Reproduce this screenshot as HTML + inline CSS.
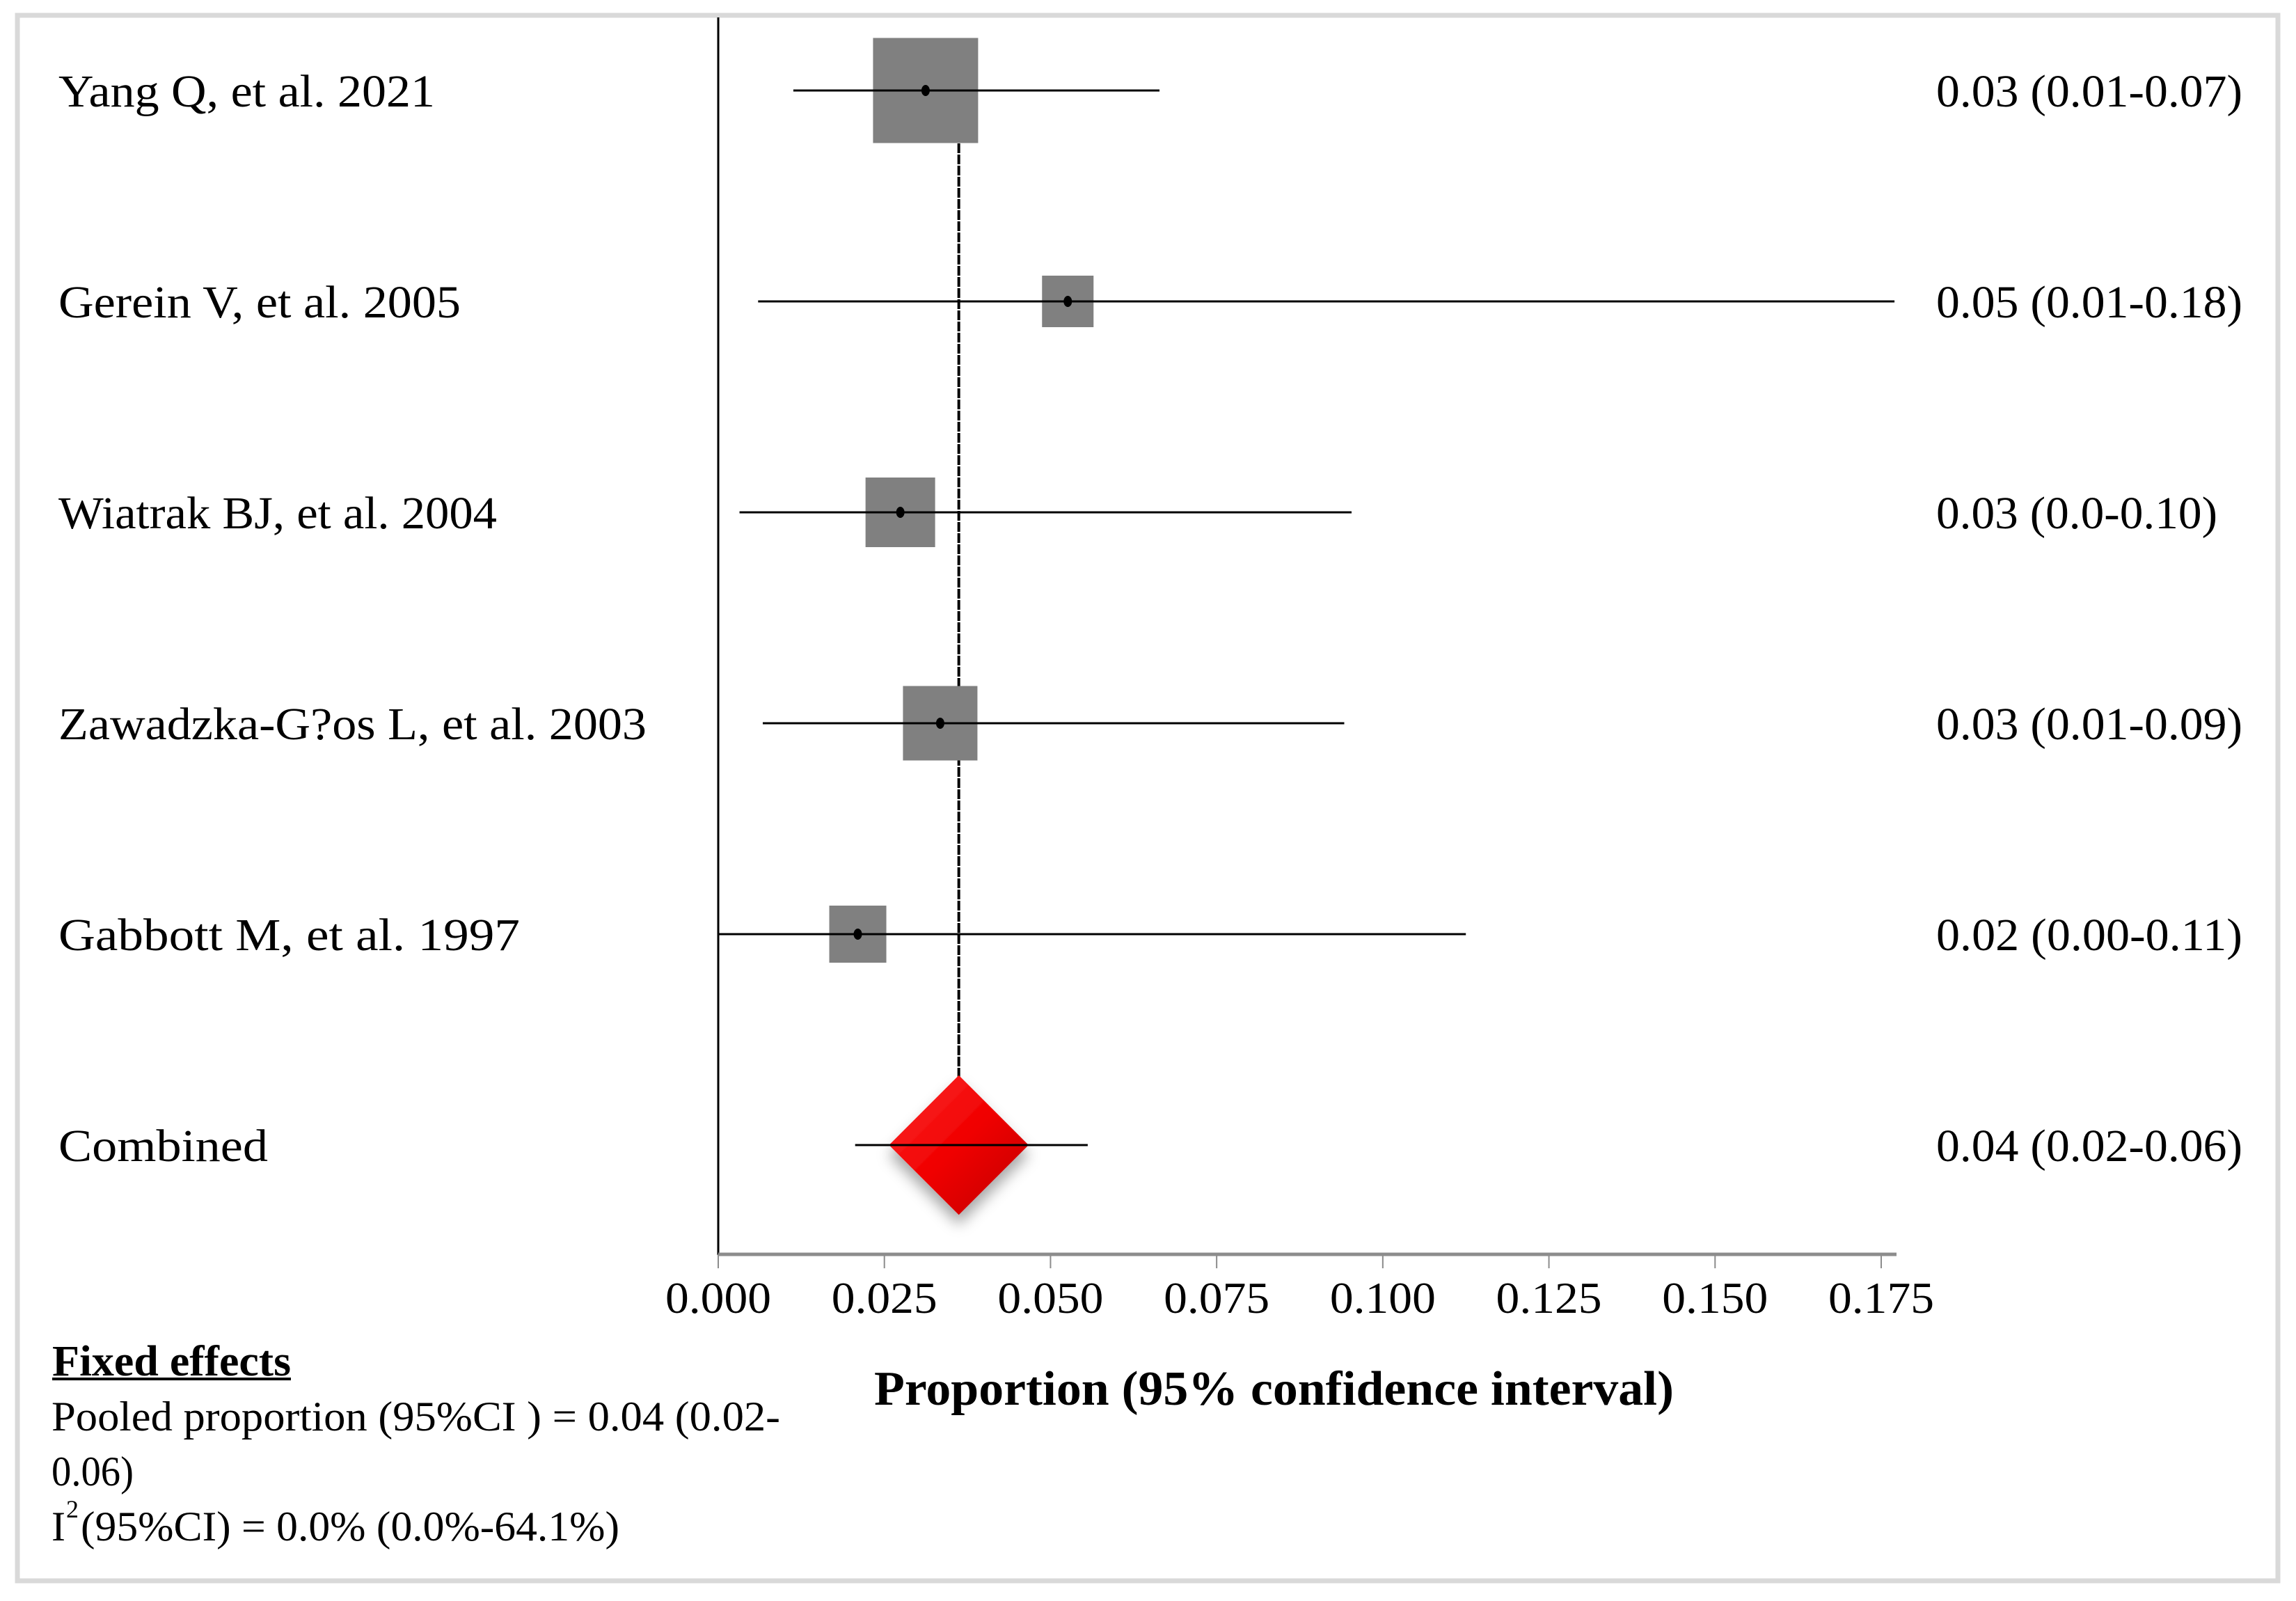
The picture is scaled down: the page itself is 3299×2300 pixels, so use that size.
<!DOCTYPE html>
<html><head><meta charset="utf-8"><style>
html,body{margin:0;padding:0;background:#fff;}
svg{display:block;font-family:"Liberation Serif",serif;}
</style></head><body>
<svg id="chart" width="3299" height="2300" viewBox="0 0 3299 2300" xmlns="http://www.w3.org/2000/svg">
<defs>
<linearGradient id="dg" x1="0" y1="0" x2="1" y2="1">
<stop offset="0" stop-color="#ff3030"/><stop offset="0.5" stop-color="#f00000"/><stop offset="1" stop-color="#c00000"/>
</linearGradient>
<filter id="sh" x="-30%" y="-30%" width="160%" height="170%"><feDropShadow dx="0" dy="14" stdDeviation="10" flood-color="#000" flood-opacity="0.35"/></filter>
</defs>
<rect x="25" y="22" width="3248" height="2249" fill="#fff" stroke="#d9d9d9" stroke-width="7"/>
<g id="plot"></g>
</svg>
<script>
const studies = ["Yang Q, et al. 2021","Gerein V, et al. 2005","Wiatrak BJ, et al. 2004","Zawadzka-G?os L, et al. 2003","Gabbott M,  et al. 1997"];
const estimates = [0.0312, 0.0526, 0.0274, 0.0334, 0.0210];
const lowerCI = [0.0113, 0.0060, 0.0032, 0.0067, 0.0000];
const upperCI = [0.0664, 0.1770, 0.0953, 0.0942, 0.1125];
const weights = [151, 74, 100, 107, 82];
const resultLabels = ["0.03 (0.01-0.07)","0.05 (0.01-0.18)","0.03 (0.0-0.10)","0.03 (0.01-0.09)","0.02 (0.00-0.11)"];
const pooledEstimate = 0.0362;
const pooledLower = 0.0206;
const pooledUpper = 0.0556;
const pooledHalfWidth = 0.0105;
const pooledLabel = "0.04 (0.02-0.06)";
const ticks = [0,0.025,0.05,0.075,0.1,0.125,0.15,0.175];
const tickLabels = ["0.000","0.025","0.050","0.075","0.100","0.125","0.150","0.175"];
const labelWidths = [541,578,630,845,663,301];
const resultWidths = [440,440,404,440,440,440];

const NS="http://www.w3.org/2000/svg";
const g=document.getElementById('plot');
const X0=1032, X1=2703, VMAX=0.175;
const x=v=>X0+(v/VMAX)*(X1-X0);
const rowY=i=>130+i*303;
function el(tag,attrs,parent){const e=document.createElementNS(NS,tag);for(const k in attrs)e.setAttribute(k,attrs[k]);(parent||g).appendChild(e);return e;}
function txt(s,attrs){const t=el('text',attrs);t.textContent=s;return t;}

// axes
let a=el('line',{x1:X0,y1:25,x2:X0,y2:1803,stroke:'#000','stroke-width':3});


a=el('line',{x1:X0,y1:1802,x2:2725,y2:1802,stroke:'#8c8c8c','stroke-width':5});


ticks.forEach((v,i)=>{
  const t=el('line',{x1:x(v),y1:1802,x2:x(v),y2:1822,stroke:'#8c8c8c','stroke-width':2});
  
  
  const l=txt(tickLabels[i],{x:x(v),y:1886,'text-anchor':'middle','font-size':64,textLength:152,lengthAdjust:'spacingAndGlyphs',fill:'#000'});
  
  
});

// reference line
a=el('line',{x1:x(pooledEstimate),y1:206,x2:x(pooledEstimate),y2:1560,stroke:'#000','stroke-width':4,'stroke-dasharray':'14 2'});



studies.forEach((s,i)=>{
  const y=rowY(i), w=weights[i];
  const b=el('rect',{x:x(estimates[i])-w/2,y:y-w/2,width:w,height:w,fill:'#808080'});
  
  
  const c=el('line',{x1:x(lowerCI[i]),y1:y,x2:x(upperCI[i]),y2:y,stroke:'#000','stroke-width':3});
  
  
  const p=el('ellipse',{cx:x(estimates[i]),cy:y,rx:6,ry:8,fill:'#000'});
  
  
  const l=txt(s,{x:84,y:y+23,'font-size':66,textLength:labelWidths[i],lengthAdjust:'spacingAndGlyphs',fill:'#000'});
  
  
  const r=txt(resultLabels[i],{x:2782,y:y+23,'font-size':66,textLength:resultWidths[i],lengthAdjust:'spacingAndGlyphs',fill:'#000'});
  
  
});

// combined
const cy=rowY(5);
const hw=x(pooledHalfWidth)-X0;
const d=el('polygon',{points:`${x(pooledEstimate)},${cy-hw} ${x(pooledEstimate)+hw},${cy} ${x(pooledEstimate)},${cy+hw} ${x(pooledEstimate)-hw},${cy}`,fill:'url(#dg)',filter:'url(#sh)'});


a=el('line',{x1:x(pooledLower),y1:cy,x2:x(pooledUpper),y2:cy,stroke:'#000','stroke-width':3});


a=txt('Combined',{x:84,y:cy+23,'font-size':66,textLength:labelWidths[5],lengthAdjust:'spacingAndGlyphs',fill:'#000'});


a=txt(pooledLabel,{x:2782,y:cy+23,'font-size':66,textLength:resultWidths[5],lengthAdjust:'spacingAndGlyphs',fill:'#000'});



// axis title
a=txt('Proportion (95% confidence interval)',{x:1256,y:2018,'font-size':70,'font-weight':'bold',textLength:1149,lengthAdjust:'spacingAndGlyphs',fill:'#000'});



// fixed effects block
a=txt('Fixed effects',{x:75,y:1976,'font-size':62,'font-weight':'bold',textLength:343,lengthAdjust:'spacingAndGlyphs',fill:'#000'});


a=el('line',{x1:75,y1:1981,x2:418,y2:1981,stroke:'#000','stroke-width':4});


a=txt('Pooled proportion  (95%CI ) = 0.04 (0.02-',{x:74,y:2055,'font-size':60,textLength:1047,lengthAdjust:'spacingAndGlyphs',fill:'#000'});


a=txt('0.06)',{x:74,y:2134,'font-size':60,textLength:118,lengthAdjust:'spacingAndGlyphs',fill:'#000'});


a=txt('I',{x:74,y:2213,'font-size':60,fill:'#000'});


a=txt('2',{x:95,y:2180,'font-size':36,fill:'#000'});


a=txt('(95%CI) = 0.0% (0.0%-64.1%)',{x:116,y:2213,'font-size':60,textLength:774,lengthAdjust:'spacingAndGlyphs',fill:'#000'});


</script>
</body></html>
